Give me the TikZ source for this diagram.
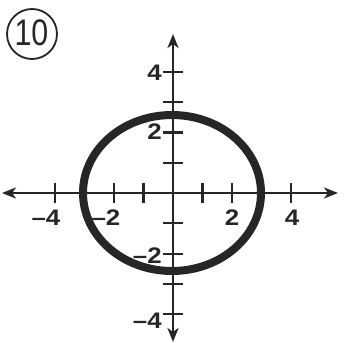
\documentclass[tikz,border=0pt]{standalone}
\usepackage{fontspec}
\setmainfont{Liberation Sans}
\usetikzlibrary{arrows.meta,calc}
\begin{document}
\begin{tikzpicture}[x=1pt,y=-1pt,
  axis/.style={line width=2.8pt,draw=black!85,{Stealth[length=14pt,width=11pt,inset=4pt]}-{Stealth[length=14pt,width=11pt,inset=4pt]}},
  tick/.style={line width=2.2pt,draw=black!85},
  lab/.style={font=\fontsize{22.5}{22.5}\selectfont\bfseries,text=black!85,inner sep=0pt,xscale=1.15},
  curve/.style={line width=8pt,draw=black!85}]
\useasboundingbox (0,0) rectangle (344,342);
\coordinate (O) at (173,193);
\coordinate (L) at (2,193);
\coordinate (R) at (338,193);
\coordinate (T) at (173,34);
\coordinate (B) at (173,342);
\draw[axis] (L) -- (R);
\draw[axis] (B) -- (T);
\foreach \k in {-4,-3,-2,-1,1,2,3,4}{
  \draw[tick] ($(O)+(29.5*\k,-10)$) -- ($(O)+(29.5*\k,10)$);
  \draw[tick] ($(O)+(-10,30.3*\k)$) -- ($(O)+(10,30.3*\k)$);
}
\draw[curve] (172,193) ellipse [x radius=89, y radius=78];
\node[lab] (xm4) at (46,218) {–4};
\node[lab] (xm2) at (106,218) {–2};
\node[lab] (x2) at (232,218) {2};
\node[lab] (x4) at (292,218) {4};
\node[lab,anchor=east] (y4) at (162,72.5) {4};
\node[lab,anchor=east] (y2) at (162,132) {2};
\node[lab,anchor=east] (ym2) at (162,256) {–2};
\node[lab,anchor=east] (ym4) at (162,321) {–4};
\node[draw=black!85,line width=1.8pt,circle,minimum size=50pt,inner sep=0pt] (num) at (32,34) {};
\node[font=\fontsize{37}{37}\selectfont,text=black!85,xscale=0.82,inner sep=0pt] (numt) at (31.5,33) {10};
\end{tikzpicture}
\end{document}
